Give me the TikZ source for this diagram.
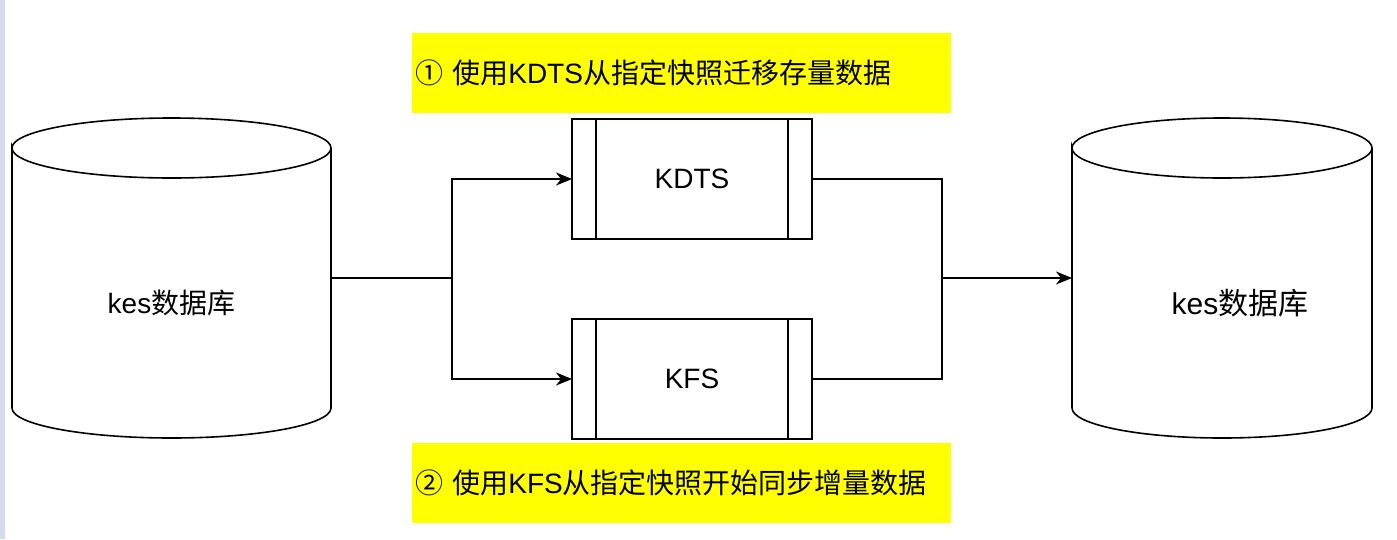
\documentclass[tikz,border=0pt]{standalone}
\usepackage{fontspec}
\setmainfont{Liberation Sans}
\newfontfamily\cjk{Noto Sans CJK SC}
\usepackage{tikz}
\usetikzlibrary{arrows.meta}

\definecolor{notebg}{RGB}{255,255,0}
\definecolor{sidebar}{RGB}{210,220,235}

\newcommand{\zh}[1]{{\cjk #1}}
% cylinder outline round a named box: node, x radius
\newcommand{\dbdraw}[2]{%
  \draw[wire] ([yshift=-30pt]#1.north west) arc[start angle=180,end angle=-180,x radius=#2,y radius=30pt]
    -- ([yshift=30pt]#1.south west) arc[start angle=180,end angle=360,x radius=#2,y radius=30pt]
    -- ([yshift=-30pt]#1.north east);}

\begin{document}
\begin{tikzpicture}[x=1pt,y=1pt,
  wire/.style={line width=1.6pt},
  arr/.style={wire,-{Stealth[length=16pt,width=13pt,inset=5pt]}},
  big/.style={font=\fontsize{28pt}{34pt}\selectfont},
  dbbox/.style={minimum height=320pt,outer sep=0pt,inner sep=0pt},
  proc/.style={draw,wire,big,minimum width=240pt,minimum height=120pt,outer sep=0pt,
    path picture={
      \draw[wire] ([xshift=24pt]path picture bounding box.north west) -- ([xshift=24pt]path picture bounding box.south west);
      \draw[wire] ([xshift=-24pt]path picture bounding box.north east) -- ([xshift=-24pt]path picture bounding box.south east);}},
  note/.style={fill=notebg,big,minimum width=539pt,minimum height=80pt,text width=533pt,inner xsep=3pt,align=left}]
\useasboundingbox (0,0) rectangle (1397,-539);
\fill[sidebar] (0,0) rectangle (5,-539);
% Databases
\node[dbbox,minimum width=319pt] (srcdb) at (171.5,-278) {};
\dbdraw{srcdb}{159.5pt}
\node[big] (srctxt) at ([yshift=-25pt]srcdb.center) {kes\zh{数据库}};
\node[dbbox,minimum width=300pt] (dstdb) at (1222,-278) {};
\dbdraw{dstdb}{150pt}
\node[font=\fontsize{30pt}{36pt}\selectfont] (dsttxt) at ([xshift=18pt,yshift=-25pt]dstdb.center) {kes\zh{数据库}};
% Tools
\node[proc] (kdts) at (692,-179) {KDTS};
\node[proc] (kfs) at (692,-379) {KFS};
% Notes
\node[note] (note1) at (681.5,-73) {\zh{①} \zh{使用}KDTS\zh{从指定快照迁移存量数据}};
\node[note] (note2) at (681.5,-483) {\zh{②} \zh{使用}KFS\zh{从指定快照开始同步增量数据}};
% Connectors
\coordinate (split) at (452,-278);
\coordinate (merge) at (942,-278);
\draw[wire] (srcdb.east) -- (split);
\draw[arr] (split) |- (kdts.west);
\draw[arr] (split) |- (kfs.west);
\draw[wire] (kdts.east) -| (merge);
\draw[wire] (kfs.east) -| (merge);
\draw[arr] (merge) -- (dstdb.west);
\end{tikzpicture}
\end{document}
